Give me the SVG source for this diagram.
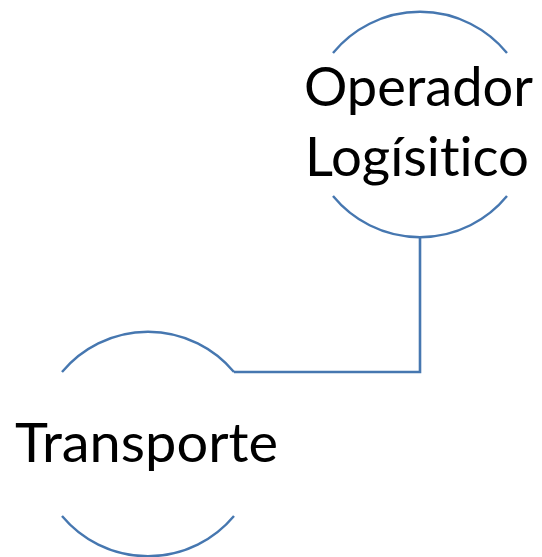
<svg xmlns="http://www.w3.org/2000/svg" width="542" height="557" viewBox="0 0 542 557">
<style>
.arc{fill:none;stroke:#4677b0;stroke-width:2.4}
.conn{fill:none;stroke:#4677b0;stroke-width:2.6}
.lbl{font-family:Lato,"Open Sans","Liberation Sans",sans-serif;font-size:54px;fill:#000;text-anchor:middle;font-variant-ligatures:none;font-feature-settings:"liga" 0,"clig" 0}
</style>
<rect width="542" height="557" fill="#fff"/>
<g id="connectors">
<path class="conn" d="M420,237 V372 H234"/>
</g>
<g id="node-operador">
<path class="arc" d="M333,53 A112.5,112.5 0 0 1 507,53"/>
<path class="arc" d="M333,196 A112.5,112.5 0 0 0 507,196"/>
<text class="lbl" x="418.5" y="106" textLength="229" lengthAdjust="spacingAndGlyphs">Operador</text>
<text class="lbl" x="417" y="176" textLength="224" lengthAdjust="spacingAndGlyphs">Logísitico</text>
</g>
<g id="node-transporte">
<path class="arc" d="M62,372 A112,112 0 0 1 234,372"/>
<path class="arc" d="M62,516 A112,112 0 0 0 234,516"/>
<text class="lbl" x="146.5" y="461.5" textLength="263" lengthAdjust="spacingAndGlyphs">Transporte</text>
</g>
</svg>
